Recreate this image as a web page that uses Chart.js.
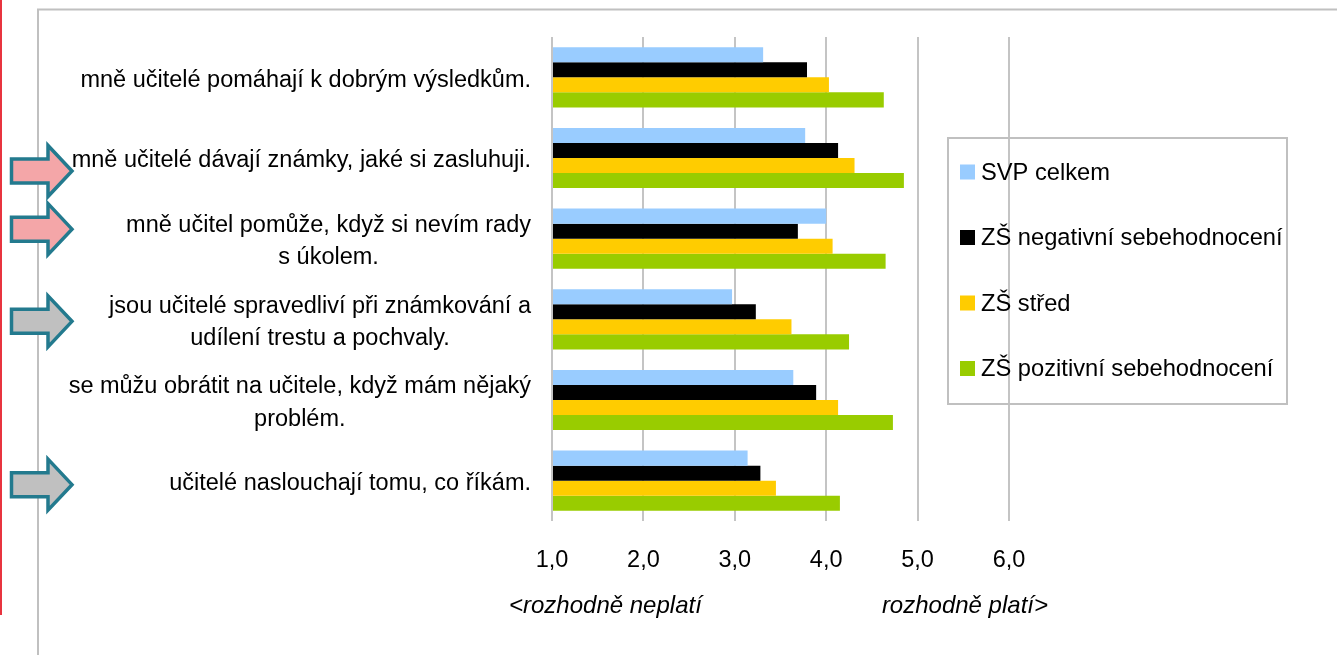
<!DOCTYPE html>
<html>
<head>
<meta charset="utf-8">
<script src="https://cdn.jsdelivr.net/npm/chart.js@4/dist/chart.umd.min.js"></script>
<style>
html,body{margin:0;padding:0;background:#fff;}
#wrap{position:relative;width:1337px;height:655px;}
canvas{display:block;}
</style>
</head>
<body>
<div id="wrap"><canvas id="c" width="1337" height="655"></canvas></div>
<script>
const categories = [
  ["mně učitelé pomáhají k dobrým výsledkům."],
  ["mně učitelé dávají známky, jaké si zasluhuji."],
  ["mně učitel pomůže, když si nevím rady", "s úkolem."],
  ["jsou učitelé spravedliví při známkování a", "udílení trestu a pochvaly."],
  ["se můžu obrátit na učitele, když mám nějaký", "problém."],
  ["učitelé naslouchají tomu, co říkám."]
];
const seriesNames = ["SVP celkem", "ZŠ negativní sebehodnocení", "ZŠ střed", "ZŠ pozitivní sebehodnocení"];
const svpCelkem = [3.31, 3.77, 4.00, 2.97, 3.64, 3.14];
const zsNegativni = [3.79, 4.13, 3.69, 3.23, 3.89, 3.28];
const zsStred = [4.03, 4.31, 4.07, 3.62, 4.13, 3.45];
const zsPozitivni = [4.63, 4.85, 4.65, 4.25, 4.73, 4.15];
const tickValues = [1, 2, 3, 4, 5, 6];
const axisNoteLeft = "<rozhodně neplatí";
const axisNoteRight = "rozhodně platí>";
// arrows: category index, type
const arrowCats = [1, 2, 3, 5];
const arrowKinds = ["pink", "pink", "gray", "gray"];

const colors = ["#99CCFF", "#000000", "#FFCC00", "#99CC00"];
const FONT = '"Liberation Sans", Arial, sans-serif';
const seriesValues = [svpCelkem, zsNegativni, zsStred, zsPozitivni];

const decor = {
  id: 'decor',
  beforeDraw(chart) {
    const ctx = chart.ctx;
    ctx.save();
    ctx.fillStyle = '#fff';
    ctx.fillRect(0, 0, chart.width, chart.height);
    ctx.fillStyle = '#E8343F';
    ctx.fillRect(0, 0, 2, 615);
    ctx.strokeStyle = '#C0C0C0';
    ctx.lineWidth = 2;
    ctx.beginPath();
    ctx.moveTo(38, 655);
    ctx.lineTo(38, 9.5);
    ctx.lineTo(1337, 9.5);
    ctx.stroke();
    ctx.restore();
  },
  afterDraw(chart) {
    const ctx = chart.ctx;
    const ys = chart.scales.y, xs = chart.scales.x;
    ctx.save();
    ctx.fillStyle = '#000';
    ctx.font = '23.5px ' + FONT;
    ctx.textBaseline = 'middle';
    ctx.textAlign = 'center';
    const rightEdge = 531;
    categories.forEach((lines, i) => {
      const cy = ys.getPixelForValue(i) + 3;
      const w = Math.max(...lines.map(l => ctx.measureText(l).width));
      const cx = rightEdge - w / 2;
      lines.forEach((l, j) => {
        ctx.fillText(l, cx, cy + (j - (lines.length - 1) / 2) * 32.5);
      });
    });
    ctx.font = 'italic 24px ' + FONT;
    ctx.textAlign = 'left';
    ctx.fillText(axisNoteLeft, xs.getPixelForValue(1) - 43, 606);
    ctx.textAlign = 'right';
    ctx.fillText(axisNoteRight, xs.getPixelForValue(6) + 39, 606);
    // legend
    ctx.strokeStyle = '#C0C0C0';
    ctx.lineWidth = 2;
    ctx.strokeRect(948, 138, 339, 266);
    ctx.font = '23.7px ' + FONT;
    ctx.textAlign = 'left';
    seriesNames.forEach((n, i) => {
      const cy = 172 + i * 65.5;
      ctx.fillStyle = colors[i];
      ctx.fillRect(960, cy - 7.5, 15, 15);
      ctx.fillStyle = '#000';
      ctx.fillText(n, 981, cy + 1);
    });
    // arrows
    arrowCats.forEach((ci, k) => {
      const offs = [13, -9.5, 2, 4][k];
      const cy = ys.getPixelForValue(ci) + offs;
      ctx.beginPath();
      ctx.moveTo(11.5, cy - 12);
      ctx.lineTo(48, cy - 12);
      ctx.lineTo(48, cy - 25.5);
      ctx.lineTo(72, cy);
      ctx.lineTo(48, cy + 25.5);
      ctx.lineTo(48, cy + 12);
      ctx.lineTo(11.5, cy + 12);
      ctx.closePath();
      ctx.fillStyle = arrowKinds[k] === 'pink' ? '#F4A6A8' : '#C0C0C0';
      ctx.fill();
      ctx.strokeStyle = '#237A8E';
      ctx.lineWidth = 3.5;
      ctx.lineJoin = 'miter';
      ctx.stroke();
    });
    ctx.restore();
  }
};

new Chart(document.getElementById('c'), {
  type: 'bar',
  data: {
    labels: categories.map(l => l.join(' ')),
    datasets: seriesNames.map((n, i) => ({
      label: n,
      data: seriesValues[i],
      backgroundColor: colors[i],
      borderWidth: 0,
      base: 1,
      barPercentage: 1,
      categoryPercentage: 0.745
    }))
  },
  options: {
    indexAxis: 'y',
    responsive: false,
    animation: false,
    events: [],
    layout: { padding: { left: 552, right: 328, top: 37, bottom: 0 } },
    plugins: { legend: { display: false }, tooltip: { enabled: false } },
    scales: {
      y: { display: false },
      x: {
        min: 1, max: 6,
        afterBuildTicks(s) { s.ticks = tickValues.map(v => ({ value: v })); },
        afterFit(s) { s.height = 134; },
        border: { display: false },
        grid: { color: '#C4C4C4', lineWidth: 2, drawTicks: false },
        ticks: {
          padding: 25,
          color: '#000',
          font: { family: FONT, size: 23.5 },
          callback: v => v.toFixed(1).replace('.', ',')
        }
      }
    }
  },
  plugins: [decor]
});
</script>
</body>
</html>
